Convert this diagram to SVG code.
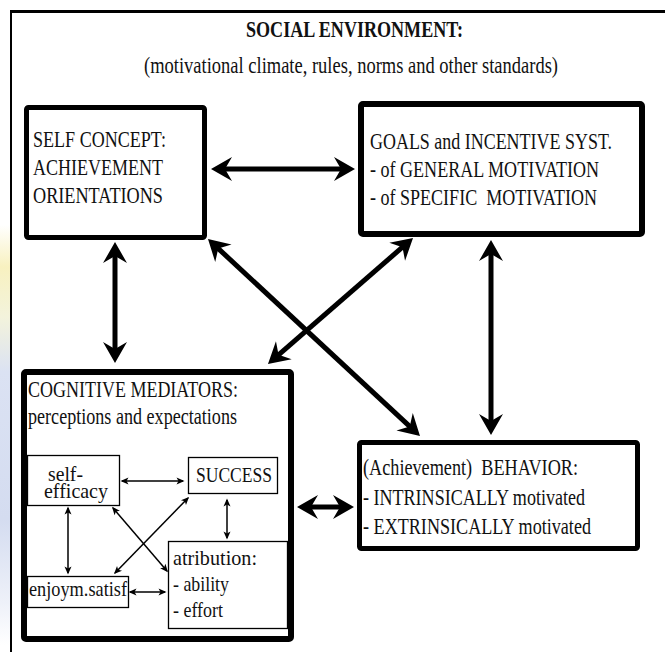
<svg xmlns="http://www.w3.org/2000/svg" width="665" height="652" viewBox="0 0 665 652">
<style>
text{font-family:'Liberation Serif','Times New Roman','DejaVu Serif',serif;fill:#111;white-space:pre}
.t{font-size:24px}
.s{font-size:22px}
.e{font-size:21px}
.b{font-weight:bold}
.big{fill:#fff;stroke:#000;stroke-linejoin:round}
.small{fill:#fff;stroke:#000;stroke-width:1.3}
.thick{stroke:#000;stroke-width:5;fill:none;marker-start:url(#hd);marker-end:url(#hd)}
.thin{stroke:#000;stroke-width:1.5;fill:none;marker-start:url(#hs);marker-end:url(#hs)}
</style>
<defs>
<linearGradient id="glow" x1="0" y1="0" x2="0" y2="1">
<stop offset="0" stop-color="#ffffff"/>
<stop offset="0.1" stop-color="#f8f1c0"/>
<stop offset="0.22" stop-color="#f3f3dc"/>
<stop offset="0.35" stop-color="#dbe2f3"/>
<stop offset="0.7" stop-color="#d4dcf0"/>
<stop offset="0.9" stop-color="#eef1f9"/>
<stop offset="1" stop-color="#ffffff"/>
</linearGradient>
<marker id="hd" markerUnits="userSpaceOnUse" orient="auto-start-reverse" refX="-6" refY="0" markerWidth="40" markerHeight="40" overflow="visible">
<path d="M0,0 L-21,-12 L-14,0 L-21,12 Z" fill="#000"/>
</marker>
<marker id="hs" markerUnits="userSpaceOnUse" orient="auto-start-reverse" refX="-1.5" refY="0" markerWidth="20" markerHeight="20" overflow="visible">
<path d="M0,0 L-8,-3.5 L-6,0 L-8,3.5 Z" fill="#000"/>
</marker>
</defs>
<rect x="0" y="225" width="11" height="420" fill="url(#glow)"/>
<g font-family="Liberation Serif, Times New Roman, DejaVu Serif, serif">
<g id="frame">
<line x1="11" y1="11.5" x2="665" y2="11.5" stroke="#000" stroke-width="3"/>
<line x1="11" y1="10" x2="11" y2="652" stroke="#000" stroke-width="2"/>
<text class="t b" x="246" y="37" textLength="217" lengthAdjust="spacingAndGlyphs">SOCIAL ENVIRONMENT:</text>
<text class="t" x="144" y="73" textLength="414" lengthAdjust="spacingAndGlyphs">(motivational climate, rules, norms and other standards)</text>
</g>
<g id="self-concept">
<rect class="big" x="26.5" y="107.5" width="178" height="130" stroke-width="5" rx="2"/>
<text class="t" x="33" y="147" textLength="133" lengthAdjust="spacingAndGlyphs">SELF CONCEPT:</text>
<text class="t" x="33" y="175" textLength="130" lengthAdjust="spacingAndGlyphs">ACHIEVEMENT</text>
<text class="t" x="33" y="203" textLength="130" lengthAdjust="spacingAndGlyphs">ORIENTATIONS</text>
</g>
<g id="goals">
<rect class="big" x="361" y="104" width="281" height="130" stroke-width="6" rx="2"/>
<text class="t" x="370" y="149" textLength="242" lengthAdjust="spacingAndGlyphs">GOALS and INCENTIVE SYST.</text>
<text class="t" x="370" y="177" textLength="229" lengthAdjust="spacingAndGlyphs">- of GENERAL MOTIVATION</text>
<text class="t" x="370" y="205" textLength="227" lengthAdjust="spacingAndGlyphs">- of SPECIFIC  MOTIVATION</text>
</g>
<g id="cognitive">
<rect class="big" x="24" y="372" width="267" height="267" stroke-width="6" rx="2"/>
<text class="t" x="28" y="397" textLength="210" lengthAdjust="spacingAndGlyphs">COGNITIVE MEDIATORS:</text>
<text class="t" x="28" y="424" textLength="209" lengthAdjust="spacingAndGlyphs">perceptions and expectations</text>
</g>
<g id="behavior">
<rect class="big" x="359.5" y="442.5" width="278" height="106" stroke-width="5" rx="2"/>
<text class="t" x="363" y="475" textLength="215" lengthAdjust="spacingAndGlyphs">(Achievement)  BEHAVIOR:</text>
<text class="t" x="363" y="505" textLength="222" lengthAdjust="spacingAndGlyphs">- INTRINSICALLY motivated</text>
<text class="t" x="363" y="534" textLength="228" lengthAdjust="spacingAndGlyphs">- EXTRINSICALLY motivated</text>
</g>
<g id="self-efficacy">
<rect class="small" x="27.5" y="455.5" width="92" height="50"/>
<text class="e" x="48" y="481" textLength="35" lengthAdjust="spacingAndGlyphs">self-</text>
<text class="e" x="44" y="498" textLength="64" lengthAdjust="spacingAndGlyphs">efficacy</text>
</g>
<g id="success">
<rect class="small" x="188.5" y="457.5" width="89" height="36"/>
<text class="s" x="196" y="482" textLength="76" lengthAdjust="spacingAndGlyphs">SUCCESS</text>
</g>
<g id="atribution">
<rect class="small" x="168.5" y="541.5" width="119" height="87"/>
<text class="s" x="173" y="565" textLength="84" lengthAdjust="spacingAndGlyphs">atribution:</text>
<text class="s" x="173" y="591" textLength="56" lengthAdjust="spacingAndGlyphs">- ability</text>
<text class="s" x="173" y="617" textLength="50" lengthAdjust="spacingAndGlyphs">- effort</text>
</g>
<g id="enjoyment">
<rect class="small" x="27.5" y="576.5" width="101" height="31"/>
<text class="s" x="29" y="596" textLength="98" lengthAdjust="spacingAndGlyphs">enjoym.satisf</text>
</g>
</g>
<g id="connectors">
<line class="thick" x1="217" y1="169" x2="349" y2="169"/>
<line class="thick" x1="115" y1="248" x2="115" y2="357"/>
<line class="thick" x1="212.4" y1="243.1" x2="415.6" y2="431.9"/>
<line class="thick" x1="408.5" y1="241.9" x2="272.5" y2="360.1"/>
<line class="thick" x1="491" y1="246" x2="491" y2="429"/>
<line class="thick" x1="303" y1="507" x2="348" y2="507" stroke-width="6"/>
<line class="thin" x1="122" y1="481" x2="183" y2="481"/>
<line class="thin" x1="68" y1="508" x2="68" y2="573"/>
<line class="thin" x1="227" y1="500" x2="227" y2="538"/>
<line class="thin" x1="130" y1="592" x2="165" y2="592"/>
<line class="thin" x1="113" y1="508" x2="167" y2="571"/>
<line class="thin" x1="188" y1="498" x2="115" y2="573"/>
</g>
</svg>
